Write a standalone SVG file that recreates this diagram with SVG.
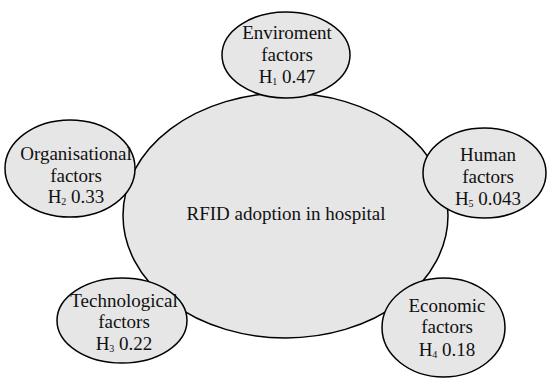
<svg xmlns="http://www.w3.org/2000/svg" width="547" height="379" viewBox="0 0 547 379">
  <style>
    .node { fill: #e6e6e6; stroke: #000; stroke-width: 1.5; }
    .label { font-family: "Liberation Serif", "Times New Roman", serif; font-size: 19px; fill: #111; text-anchor: middle; }
    .sub { font-size: 10px; }
  </style>
  <rect width="547" height="379" fill="#fff"/>
  <g id="connectors"></g>
  <g id="center">
    <ellipse class="node" cx="285.5" cy="215.5" rx="162.5" ry="122.5"/>
    <text class="label" x="286" y="220">RFID adoption in hospital</text>
  </g>
  <g id="enviroment">
    <ellipse class="node" cx="286" cy="55" rx="64" ry="43"/>
    <text class="label" x="287" y="39">Enviroment</text>
    <text class="label" x="287" y="61">factors</text>
    <text class="label" x="287" y="83">H<tspan class="sub" dy="2">1</tspan><tspan dy="-2"> 0.47</tspan></text>
  </g>
  <g id="organisational">
    <ellipse class="node" cx="70" cy="168.5" rx="65" ry="48.5"/>
    <text class="label" x="76" y="160">Organisational</text>
    <text class="label" x="76" y="182">factors</text>
    <text class="label" x="76" y="203">H<tspan class="sub" dy="2">2</tspan><tspan dy="-2"> 0.33</tspan></text>
  </g>
  <g id="human">
    <ellipse class="node" cx="484.5" cy="173" rx="61.5" ry="45"/>
    <text class="label" x="488" y="161">Human</text>
    <text class="label" x="488" y="183">factors</text>
    <text class="label" x="488" y="205">H<tspan class="sub" dy="2">5</tspan><tspan dy="-2"> 0.043</tspan></text>
  </g>
  <g id="technological">
    <ellipse class="node" cx="122" cy="320.5" rx="65" ry="42.5"/>
    <text class="label" x="124" y="307">Technological</text>
    <text class="label" x="124" y="328">factors</text>
    <text class="label" x="124" y="350">H<tspan class="sub" dy="2">3</tspan><tspan dy="-2"> 0.22</tspan></text>
  </g>
  <g id="economic">
    <ellipse class="node" cx="443.5" cy="327.5" rx="61.5" ry="49.5"/>
    <text class="label" x="447" y="312">Economic</text>
    <text class="label" x="447" y="333">factors</text>
    <text class="label" x="447" y="356">H<tspan class="sub" dy="2">4</tspan><tspan dy="-2"> 0.18</tspan></text>
  </g>
</svg>
